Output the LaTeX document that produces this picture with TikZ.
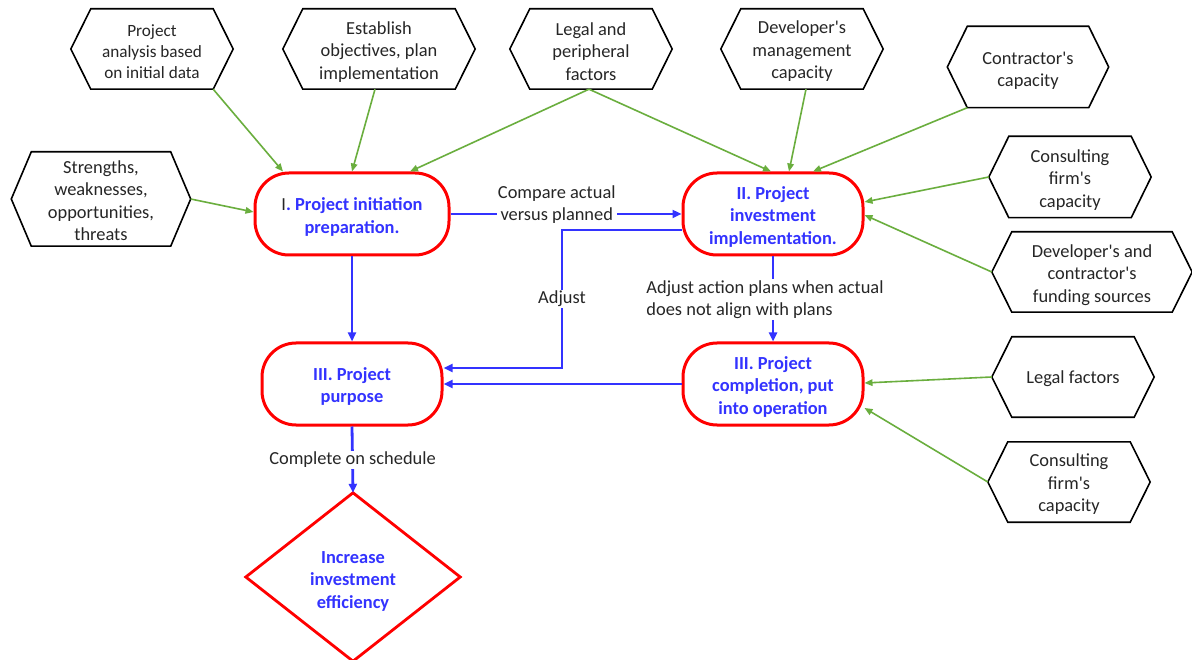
\documentclass[tikz,border=0pt]{standalone}
\usepackage{fontspec}
\setmainfont{Carlito}[Ligatures=TeXOff]
\usetikzlibrary{arrows.meta}
\definecolor{tblue}{RGB}{51,51,255}
\definecolor{tred}{RGB}{255,0,0}
\definecolor{tgreen}{RGB}{106,174,62}
\definecolor{tgray}{RGB}{38,38,38}
\newcommand{\myfs}[1][18pt]{\rule{0pt}{#1}}
\begin{document}
\begin{tikzpicture}[x=1pt,y=-1pt,
  hexbox/.style={minimum width=#1, minimum height=80pt, inner sep=0pt, align=center, text=tgray, font=\fontsize{18.4}{22.5}\selectfont},
  hexline/.style={draw=black, line width=1.6pt, line join=miter},
  stad/.style={draw=tred, line width=3pt, rounded corners=34pt, minimum width=180pt, minimum height=82pt, align=center, text=tblue, font=\fontsize{18.4}{22.5}\selectfont\bfseries, inner sep=0pt},
  barrow/.style={draw=tblue, line width=2.8pt, -{Triangle[length=9pt,width=8pt]}},
  garrow/.style={draw=tgreen, line width=1.6pt, -{Triangle[length=8pt,width=6.5pt]}},
  lbl/.style={text=tgray, font=\fontsize{18.4}{22.5}\selectfont, fill=white, inner sep=1pt, align=center}
]
\fill[white] (0,0) rectangle (1192,660);
\useasboundingbox (0,0) rectangle (1192,660);

% hexagon nodes
\node[hexbox=162pt, font=\fontsize{17.2}{21}\selectfont] (h1) at (152,49) {\myfs Project\\analysis based\\on initial data};
\node[hexbox=192pt] (h2) at (379,49) {\myfs Establish\\objectives, plan\\implementation};
\node[hexbox=162pt] (h3) at (591,49) {\myfs Legal and\\peripheral\\factors};
\node[hexbox=162pt] (h4) at (802,49) {\myfs[17.5pt]Developer's\\management\\capacity};
\node[hexbox=161pt, minimum height=81pt] (h5) at (1028,67) {\myfs[19.5pt]Contractor's\\capacity};
\node[hexbox=162pt, minimum height=81pt] (h6) at (1070,177) {\myfs Consulting\\firm's\\capacity};
\node[hexbox=200pt] (h7) at (1092,272) {\myfs[19pt]Developer's and\\contractor's\\funding sources};
\node[hexbox=179pt, minimum height=94pt] (h8) at (101,199) {\myfs[16pt]Strengths,\\weaknesses,\\opportunities,\\threats};
\node[hexbox=162pt] (h9) at (1073,377) {\myfs[17pt]Legal factors};
\node[hexbox=162pt] (h10) at (1069,482) {\myfs[17pt]Consulting\\firm's\\capacity};
\foreach \n in {h1,h2,h3,h4,h5,h6,h7,h8,h9,h10}
  \draw[hexline] (\n.west) -- ([xshift=20pt]\n.north west) -- ([xshift=-20pt]\n.north east) -- (\n.east) -- ([xshift=-20pt]\n.south east) -- ([xshift=20pt]\n.south west) -- cycle;

% main process nodes
\node[stad, minimum width=194pt] (r1) at (352,214) {\myfs[19pt]\textcolor{tgray}{\mdseries I}. Project initiation\\preparation.};
\node[stad] (r2) at (773,214) {\myfs II. Project\\investment\\implementation.};
\node[stad] (r3) at (352,384) {\myfs III. Project\\purpose};
\node[stad] (r4) at (773,384) {\myfs III. Project\\completion, put\\into operation};
\node[minimum width=214pt, minimum height=168pt, inner sep=0pt, align=center, text=tblue, font=\fontsize{18.4}{22.5}\selectfont\bfseries] (dia) at (353,578) {\myfs Increase\\investment\\efficiency};
\draw[draw=tred, line width=2.8pt, line join=miter] ([yshift=1pt]dia.north) -- ([yshift=1pt]dia.east) -- ([yshift=1pt]dia.south) -- ([yshift=1pt]dia.west) -- cycle;

% blue connectors
\coordinate (c1) at (562,230);
\coordinate (c2) at (562,368);
\draw[barrow] (r1.east) -- node[lbl, pos=0.46, yshift=9.5pt] {Compare actual\\versus planned} (r2.west);
\draw[barrow] ([yshift=-16pt]r2.west) -- (c1) -- node[lbl] {Adjust} (c2) -- ([yshift=16pt]r3.east);
\draw[barrow] (r4.west) -- (r3.east);
\draw[barrow] (r1.south) -- (r3.north);
\draw[barrow] (r2.south) -- node[lbl, align=left, xshift=-8pt, yshift=-0.5pt] {Adjust action plans when actual\\does not align with plans} (r4.north);
\draw[barrow] (r3.south) -- node[lbl] {Complete on schedule} ([yshift=1pt]dia.north);

% green connectors
\draw[garrow] ([xshift=-20pt]h1.south east) -- ([xshift=-69pt]r1.north);
\draw[garrow] ([xshift=-4pt]h2.south) -- (r1.north);
\draw[garrow] ([xshift=-2pt]h3.south) -- ([xshift=58pt]r1.north);
\draw[garrow] ([xshift=-2pt]h3.south) -- ([xshift=-2pt]r2.north);
\draw[garrow] ([xshift=4pt]h4.south) -- ([xshift=16pt]r2.north);
\draw[garrow] ([xshift=20pt]h5.south west) -- ([xshift=40pt]r2.north);
\draw[garrow] (h6.west) -- ([yshift=12pt]r2.east);
\draw[garrow] (h7.west) -- ([yshift=-1pt]r2.east);
\draw[garrow] (h8.east) -- ([yshift=2pt]r1.west);
\draw[garrow] (h9.west) -- ([yshift=1pt]r4.east);
\draw[garrow] (h10.west) -- ([yshift=-24pt]r4.east);
\end{tikzpicture}
\end{document}
